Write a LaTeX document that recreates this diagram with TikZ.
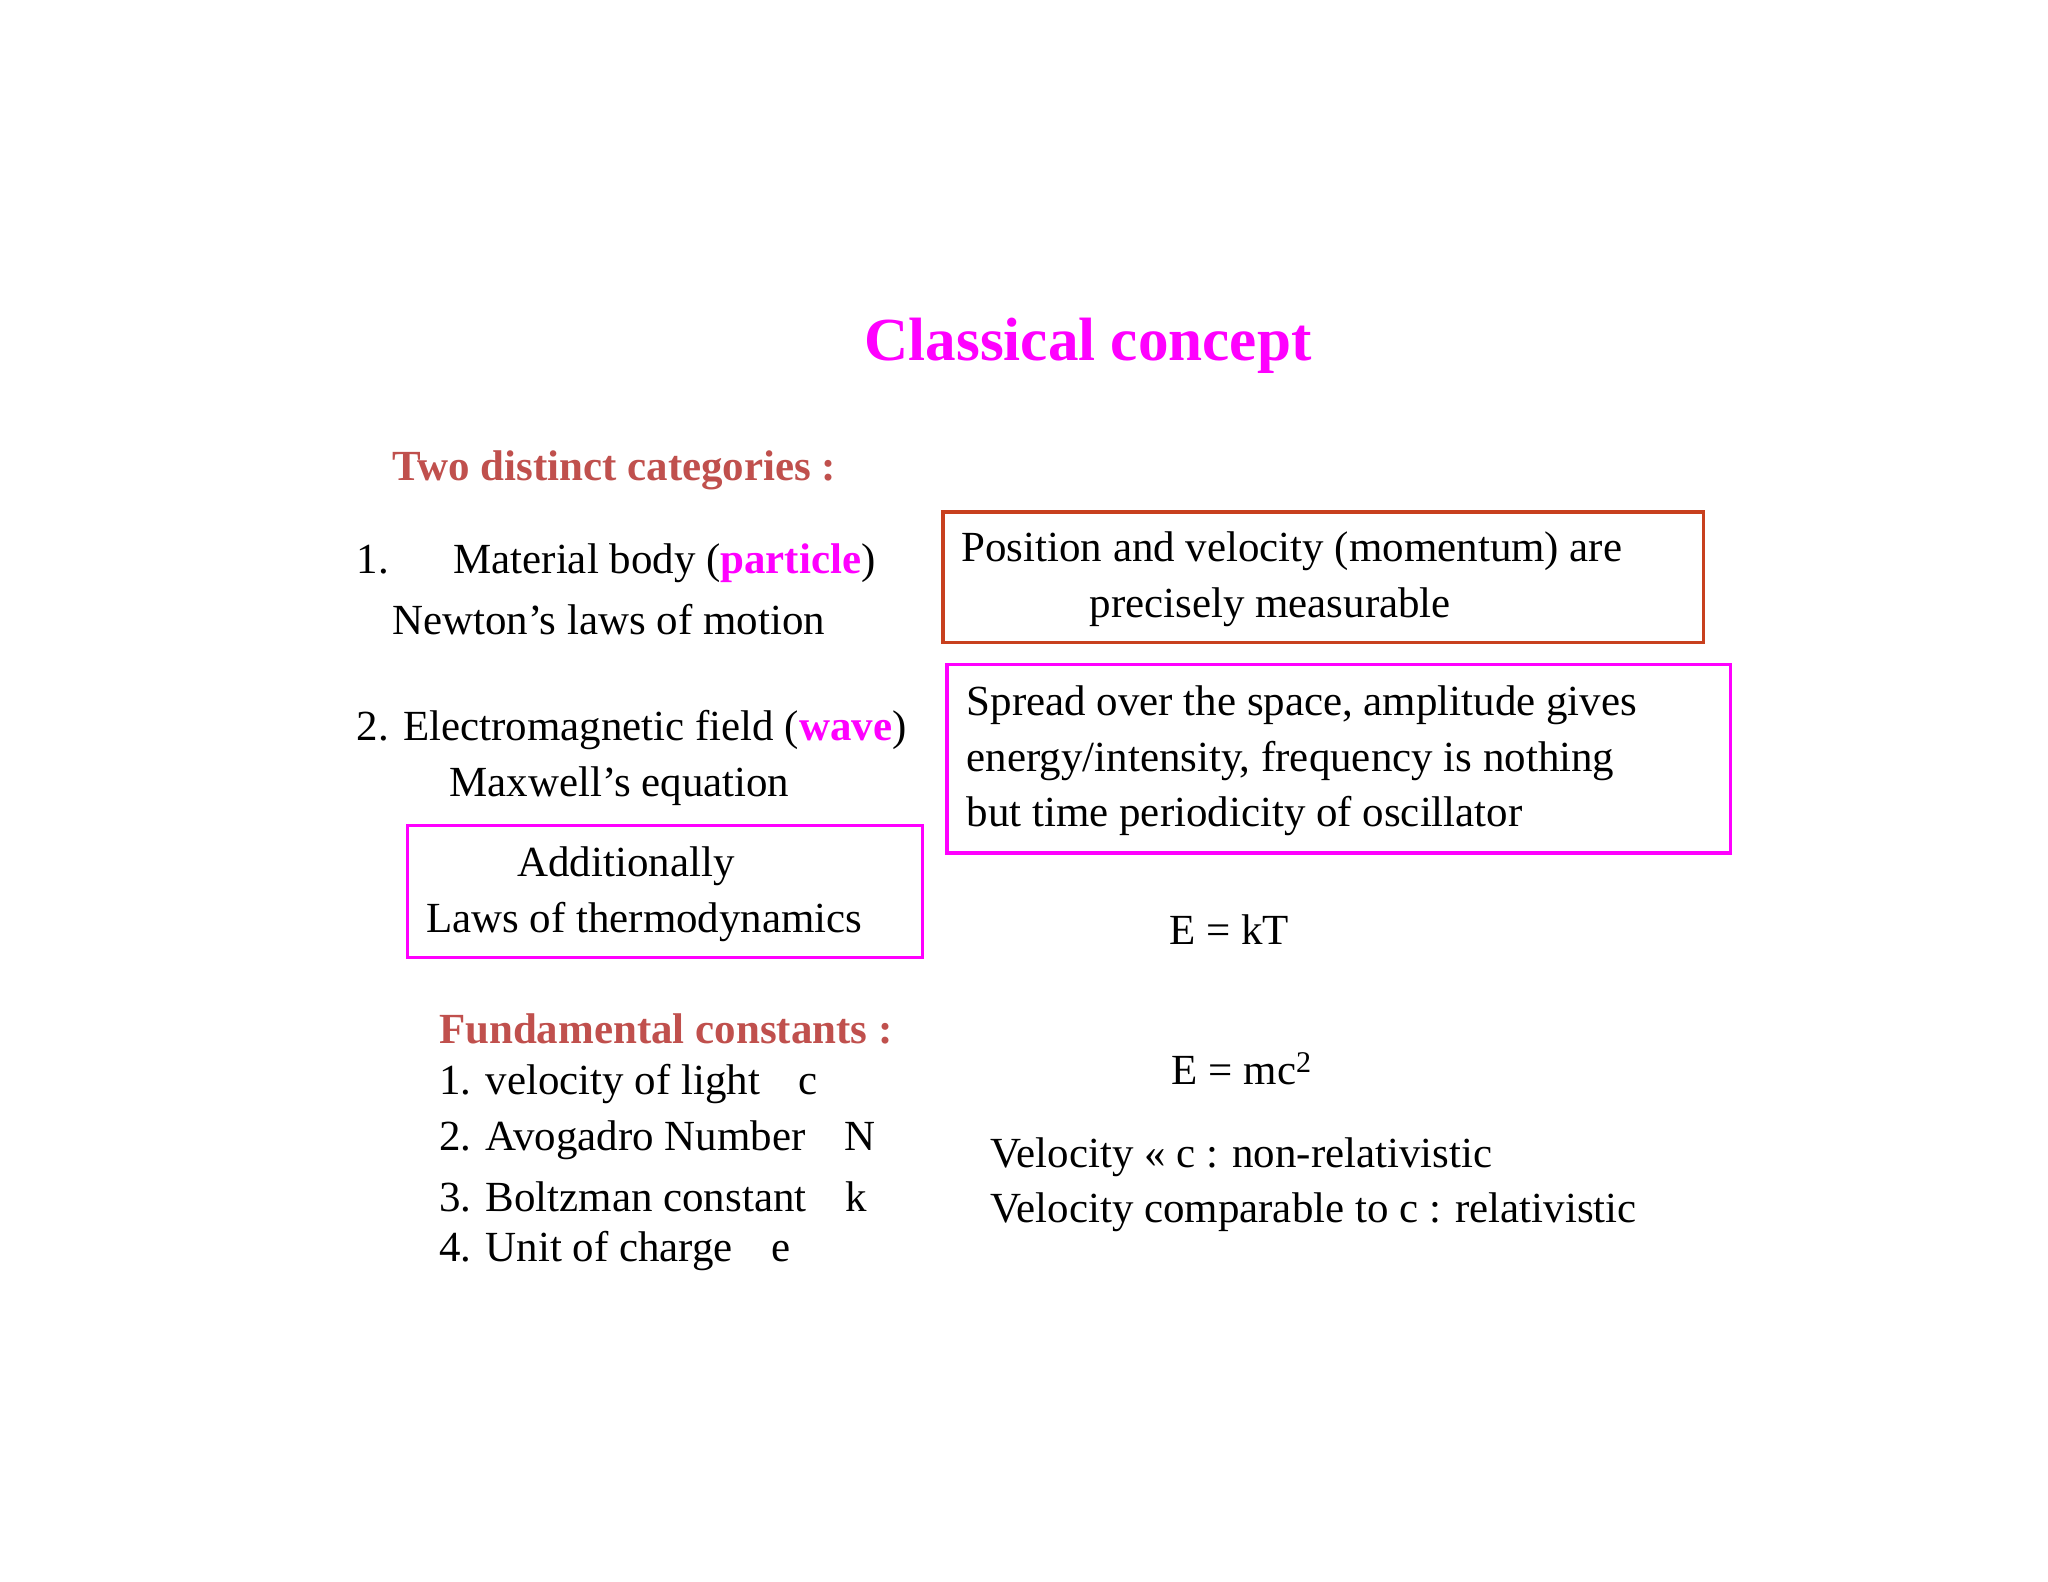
\documentclass[tikz,border=0pt]{standalone}
\usepackage{fontspec}
\setmainfont{Liberation Serif}
\definecolor{mag}{HTML}{FF00FF}
\definecolor{brn}{HTML}{C0504D}
\definecolor{boxred}{HTML}{C8401E}
\begin{document}
\begin{tikzpicture}[x=1bp,y=-1bp,
  txt/.style={anchor=west,inner sep=0pt,font=\fontsize{33}{43}\selectfont},
  head/.style={anchor=west,inner sep=0pt,font=\fontsize{33}{43}\selectfont\bfseries,text=brn},
  frame/.style={draw=#1,line width=2.5bp}]
\useasboundingbox[fill=white] (0,0) rectangle (1568,1211);
\node[inner sep=0pt,text=mag,font=\fontsize{47}{50}\selectfont\bfseries] (title) at (833,265) {Classical concept};
\node[head] (two) at (300,360) {Two distinct categories :};
\node[txt] (m1) at (273,431) {1.\hspace{1.5em}Material body (\textbf{\textcolor{mag}{particle}})};
\node[txt] (m2) at (300,474) {Newton’s laws of motion};
\draw[frame=boxred] (722,392) rectangle (1304,492);
\node[txt] (p1) at (736,422) {Position and velocity (momentum) are};
\node[txt] (p2) at (834,465) {precisely measurable};
\node[txt] (e1) at (273,559) {2. Electromagnetic field (\textbf{\textcolor{mag}{wave}})};
\node[txt] (e2) at (344,602) {Maxwell’s equation};
\draw[frame=mag] (725,509) rectangle (1325,653);
\node[txt] (s1) at (740,540) {Spread over the space, amplitude gives};
\node[txt] (s2) at (740,583) {energy/intensity, frequency is nothing};
\node[txt] (s3) at (740,625) {but time periodicity of oscillator};
\draw[frame=mag] (312,632) rectangle (706,733);
\node[txt] (a1) at (396,663) {Additionally};
\node[txt] (a2) at (326,706) {Laws of thermodynamics};
\node[txt] (ekt) at (895,712) {E = kT};
\node[head] (fc) at (336,788) {Fundamental constants :};
\node[txt] (c1) at (336,830) {1. velocity of light\hspace{0.9em}c};
\node[txt] (c2) at (336,873) {2. Avogadro Number\hspace{0.9em}N};
\node[txt] (c3) at (336,916) {3. Boltzman constant\hspace{0.9em}k};
\node[txt] (c4) at (336,958) {4. Unit of charge\hspace{0.9em}e};
\node[txt] (emc) at (897,818) {E = mc\textsuperscript{2}};
\node[txt] (v1) at (758,886) {Velocity << c : non-relativistic};
\node[txt] (v2) at (758,928) {Velocity comparable to c : relativistic};
\end{tikzpicture}
\end{document}
